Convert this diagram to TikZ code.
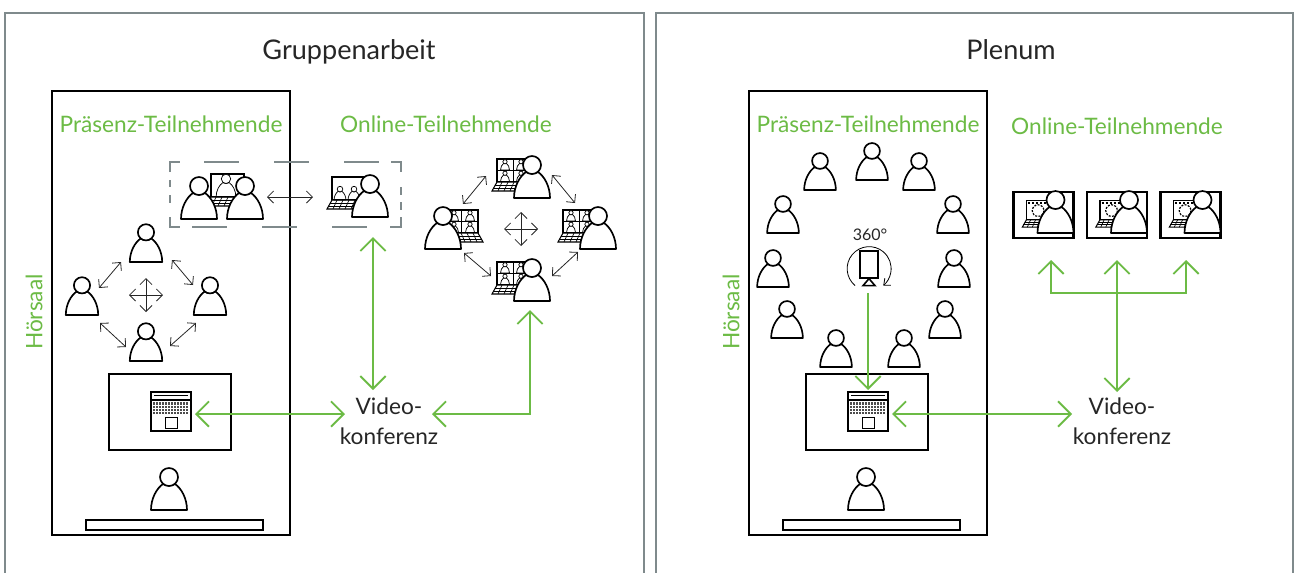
\documentclass[tikz,border=0pt]{standalone}
\usepackage{fontspec}
\setmainfont{Lato}
\usetikzlibrary{arrows.meta,calc}
\definecolor{hgreen}{HTML}{6CBB45}
\definecolor{hgray}{HTML}{7F8A8C}
\newcommand{\laptopbody}{%
  \draw[fill=white,line width=.9pt] (0,-23) rectangle (33,0);
  \draw[fill=white,line width=.8pt] (0,0) -- (36,0) -- (36,9) -- (-5,9) -- cycle;
  \draw[line width=.5pt] (-2,3) -- (36,3) (-4,6) -- (36,6);
  \foreach \k in {1,...,6}{\draw[line width=.5pt] ({\k*6-1},0) -- ({\k*6-5},9);}
}
\tikzset{
  person/.pic={
    \draw[fill=white,line width=1.25pt,line join=round] (-18,0) .. controls (-18,-12) and (-12,-22) .. (-6,-26)
      .. controls (-3,-24) and (3,-24) .. (6,-26) .. controls (12,-22) and (18,-12) .. (18,0) -- cycle;
    \draw[fill=white,line width=1.25pt] (0,-33) circle (9);
  },
  mini/.pic={
    \draw[line width=.55pt] (-18,0) .. controls (-18,-12) and (-12,-22) .. (-6,-26)
      .. controls (-3,-24) and (3,-24) .. (6,-26) .. controls (12,-22) and (18,-12) .. (18,0) -- cycle;
    \draw[fill=white,line width=.55pt] (0,-33) circle (8.5);
  },
  gridperson/.pic={
    \begin{scope}[shift={(-35,-16)}]
      \laptopbody
      \draw[line width=.8pt] (16.5,-23) -- (16.5,0) (0,-11.5) -- (33,-11.5);
      \foreach \mx/\my in {8/-12,24/-12,8/-.5,24/-.5}{\path (\mx,\my) pic[scale=.25] {mini};}
    \end{scope}
    \path (0,0) pic {person};
  },
  twoperson/.pic={
    \begin{scope}[shift={(-38,-17)}]
      \laptopbody
      \path (8,0) pic[scale=.33] {mini};
      \path (22,0) pic[scale=.33] {mini};
    \end{scope}
    \path (0,0) pic {person};
  },
  gearperson/.pic={
    \begin{scope}[shift={(-35,-16)}]
      \laptopbody
      \draw[line width=1pt,dash pattern=on 1.5pt off 1.5pt] (2,-20) -- (32,-20);
      \draw[line width=.9pt,dash pattern=on 1.5pt off 1pt] (14,-11) circle (7);
    \end{scope}
    \path (0,0) pic {person};
  },
  topview/.pic={
    \draw[line width=1.8pt] (-20,-21) rectangle (20,18);
    \draw[line width=1.8pt] (-20,-13) -- (20,-13);
    \draw[line width=.8pt] (-17,-17.5) -- (17,-17.5);
    \fill[black!70] (-18,-11) rectangle (18,1);
    \foreach \k in {-16,-13,...,17}{\draw[white,line width=.3pt] (\k,-11) -- (\k,1);}
    \foreach \k in {-8,-5,-2}{\draw[white,line width=.3pt] (-18,\k) -- (18,\k);}
    \draw[line width=.7pt] (-6,4) rectangle (6,15);
  },
  hall/.style={draw,line width=2.1pt},
  panel/.style={draw=hgray,line width=2.2pt},
  head/.style={font=\fontsize{20.3}{24}\selectfont,text=black!85,inner sep=0pt},
  green/.style={text=hgreen,font=\fontsize{17}{20}\selectfont,inner sep=0pt},
  video/.style={font=\fontsize{17}{22.5}\selectfont,text=black!85,inner ysep=2pt},
  garrow/.style={draw=hgreen,line width=1.4pt,>={Straight Barb[length=9.5pt,width=19pt]}},
  barrow/.style={draw=black!85,line width=.6pt,<->,>={Straight Barb[length=4.5pt,width=9pt]}},
  dashbox/.style={draw=hgray,line width=1.9pt}
}
\begin{document}
\begin{tikzpicture}[x=.75pt,y=-.75pt]
\useasboundingbox (0,0) rectangle (1294,572);
% frames
\draw[panel] (5,573) -- (5,13) -- (644,13) -- (644,573);
\draw[panel] (656,573) -- (656,13) -- (1293,13) -- (1293,573);
\node[head] (titleL) at (349,52) {Gruppenarbeit};
\node[head] (titleR) at (1011,50) {Plenum};
% lecture halls
\foreach \s/\dx in {L/0,R/697}{
  \draw[hall] (52+\dx,91) rectangle (290+\dx,535);
  \node[green] (present\s) at (171+\dx,124) {Präsenz-Teilnehmende};
  \node[green,rotate=90] (hoersaal\s) at (34+\dx,312) {Hörsaal};
  \node[hall,inner sep=0pt,minimum width=91.5pt,minimum height=57pt] (screen\s) at (170+\dx,412) {};
  \node[inner sep=0pt,outer sep=3pt,minimum width=30pt,minimum height=30pt] (laptop\s) at (171+\dx,414) {};
  \path (laptop\s.center) ++(0,-1) pic {topview};
  \path (169+\dx,510) pic {person};
  \draw[hall,line width=1.6pt] (86+\dx,520) rectangle (263+\dx,530);
}
\node[green] (onlineL) at (446,124) {Online-Teilnehmende};
\node[green] (onlineR) at (1117,126) {Online-Teilnehmende};
% group work
\draw[dashbox] (170,172) -- (170,162) -- (180,162) (391,162) -- (401,162) -- (401,172);
\draw[dashbox] (170,217) -- (170,227) -- (180,227) (390,227) -- (401,227) -- (401,217);
\draw[dashbox] (204,162) -- (239,162) (274,162) -- (309,162) (344,162) -- (379,162);
\draw[dashbox] (192,227) -- (227,227) (262,227) -- (297,227) (332,227) -- (367,227);
\draw[dashbox] (170,180) -- (170,187) (170,195) -- (170,203) (401,187) -- (401,195) (401,202) -- (401,210);
\begin{scope}[shift={(211,197)}]
  \laptopbody
  \path (15,0) pic[scale=.55] {mini};
\end{scope}
\path (199,219) pic {person};
\path (245,219) pic {person};
\path (370,217) pic {twoperson};
\foreach \px/\py in {146/262,82/315,210/315,146/361}{
  \path (\px,\py) pic[scale=.9] {person};
}
\path (532,198) pic {gridperson};
\path (532,301) pic {gridperson};
\path (598,249) pic {gridperson};
\path (443,249) pic[xscale=-1] {gridperson};
% small arrows
\foreach \n/\ax/\ay in {a1/267/197,a2/313/197,
  b1/99/288,b2/121/262,b3/172/260,b4/193/285,b5/100/323,b6/126/347,b7/170/346,b8/196/323,
  c1/463/204,c2/486/176,c3/552/175,c4/575/203,c5/464/253,c6/491/276,c7/552/276,c8/578/252,
  d1/146/295,d2/521/229}{
  \coordinate (\n) at (\ax,\ay);
}
\draw[barrow] (a1) -- (a2);
\foreach \i/\j in {b1/b2,b3/b4,b5/b6,b7/b8,c1/c2,c3/c4,c5/c6,c7/c8}{
  \draw[barrow] (\i) -- (\j);
}
\foreach \c in {d1,d2}{
  \draw[barrow] ($(\c)+(-17,0)$) -- ($(\c)+(17,0)$);
  \draw[barrow] ($(\c)+(0,-17)$) -- ($(\c)+(0,17)$);
}
% video conference left
\node[video,align=center,anchor=north,inner xsep=0pt] (videoL) at (389,395) {Video-\\konferenz};
\coordinate (videoLin) at (345,414);
\coordinate (onlA) at (373,237);
\coordinate (onlAend) at (373,390);
\coordinate (onlB) at (530,310);
\coordinate (videoLtip) at (432,414);
\draw[garrow,<->] (laptopL.east) -- (videoLin);
\draw[garrow,<->] (onlA) -- (onlAend);
\draw[garrow,<->] (videoLtip) -| (onlB);
% plenum
\foreach \px/\py in {872/180,820/190,919/190,783/233,953/233,773/287,954/287,787/338,945/338,836/367,904/367}{
  \path (\px,\py) pic[scale=.88] {person};
}
\node[inner sep=0pt,font=\fontsize{12}{14}\selectfont,text=black!85] (deg) at (870,235) {360°};
\node[draw,line width=1.2pt,inner sep=0pt,minimum width=13.5pt,minimum height=20pt] (camera) at (869,264.5) {};
\draw[line width=1.2pt] (camera.south) -- ++(-6,7) -- ++(12,0) -- cycle;
\draw[line width=.6pt,-{Straight Barb[length=4pt,width=7pt]}] ($(camera)+(-14,21)$) arc[start angle=130,end angle=410,radius=22];
\coordinate (camfoot) at (868,293);
\draw[garrow,->] (camfoot) -- (camfoot |- laptopR.north);
\foreach \b/\bx in {m1/1043.5,m2/1117,m3/1190.5}{
  \node[draw,line width=1.6pt,inner sep=0pt,minimum width=45pt,minimum height=34.5pt] (\b) at (\bx,215) {};
  \path (\bx+12,233) pic[scale=.83] {gearperson};
}
\node[video,align=center,anchor=north,inner xsep=0pt] (videoR) at (1122,395) {Video-\\konferenz};
\coordinate (videoRin) at (1072,414);
\coordinate (bar) at (1117,293);
\coordinate (barend) at (1117,392);
\draw[garrow,<->] (laptopR.east) -- (videoRin);
\draw[garrow,<->] (m2.south) ++(0,21) -- (bar) -- (barend);
\draw[garrow,<->] (1051,260) -- (1051,293) -- (1186,293) -- (1186,260);
\end{tikzpicture}
\end{document}
